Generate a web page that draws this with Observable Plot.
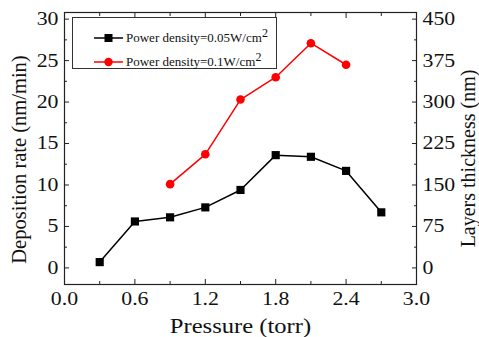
<!DOCTYPE html>
<html><head><meta charset="utf-8">
<script src="https://cdn.jsdelivr.net/npm/d3@7"></script>
<script src="https://cdn.jsdelivr.net/npm/@observablehq/plot@0.6"></script>
<style>
body{margin:0;background:#fff;}
#wrap{position:relative;width:479px;height:337px;font-family:"Liberation Serif","Times New Roman",serif;}
#legend{position:absolute;left:72px;top:17px;width:205px;height:52px;border:1px solid #333;box-sizing:border-box;background:#fff;font-size:13px;color:#111;}
#legend .row{position:absolute;left:0;height:16px;width:200px;}
#legend svg{position:absolute;left:21px;top:0;}
#legend span{position:absolute;left:53px;top:0;line-height:16px;white-space:nowrap;}
#legend sup{font-size:12px;vertical-align:5px;line-height:0;}
</style></head>
<body><div id="wrap"><div id="chart"></div>
<div id="legend">
<div class="row" style="top:12px"><svg width="30" height="16"><line x1="0" y1="8" x2="29" y2="8" stroke="#000" stroke-width="1.5"/><rect x="10.5" y="4" width="8" height="8" fill="#000"/></svg><span>Power density=0.05W/cm<sup>2</sup></span></div>
<div class="row" style="top:36px"><svg width="30" height="16"><line x1="0" y1="8" x2="29" y2="8" stroke="#f00" stroke-width="1.5"/><circle cx="14.5" cy="8" r="4.2" fill="#f00"/></svg><span>Power density=0.1W/cm<sup>2</sup></span></div>
</div></div>
<script>
const pressureLow = [0.3, 0.6, 0.9, 1.2, 1.5, 1.8, 2.1, 2.4, 2.7];
const rateLow = [0.7, 5.6, 6.1, 7.3, 9.4, 13.6, 13.4, 11.7, 6.7];
const pressureHigh = [0.9, 1.2, 1.5, 1.8, 2.1, 2.4];
const rateHigh = [10.1, 13.7, 20.3, 23.0, 27.1, 24.5];
const xTicks = [0, 0.6, 1.2, 1.8, 2.4, 3.0];
const xMinor = [0.3, 0.9, 1.5, 2.1, 2.7];
const yTicks = [0, 5, 10, 15, 20, 25, 30];
const yMinor = [2.5, 7.5, 12.5, 17.5, 22.5, 27.5];
const thicknessLabels = [0, 75, 150, 225, 300, 375, 450];

const low = pressureLow.map((p, i) => ({p, r: rateLow[i]}));
const high = pressureHigh.map((p, i) => ({p, r: rateHigh[i]}));
const fs = 18.5;
const ax = "#222";

const chart = Plot.plot({
  width: 479, height: 337,
  marginLeft: 64, marginRight: 63, marginTop: 12, marginBottom: 53,
  style: {fontFamily: '"Liberation Serif","Times New Roman",serif', color: "#111", background: "#fff"},
  x: {domain: [0, 3]},
  y: {domain: [-2, 30.8]},
  marks: [
    Plot.frame({stroke: ax, strokeWidth: 1.2}),
    Plot.axisX(xTicks, {anchor: "bottom", tickSize: -5, tickPadding: 12, stroke: ax, fontSize: fs, tickFormat: d3.format(".1f"), label: null}),
    Plot.axisX(xTicks, {anchor: "top", tickSize: -5, tickFormat: () => "", stroke: ax, label: null}),
    Plot.axisX(xMinor, {anchor: "bottom", tickSize: -3, tickFormat: () => "", stroke: ax, label: null}),
    Plot.axisX(xMinor, {anchor: "top", tickSize: -3, tickFormat: () => "", stroke: ax, label: null}),
    Plot.axisY(yTicks, {anchor: "left", tickSize: -5, tickPadding: 11, stroke: ax, fontSize: fs, label: null}),
    Plot.axisY(yMinor, {anchor: "left", tickSize: -3, tickFormat: () => "", stroke: ax, label: null}),
    Plot.axisY(yTicks, {anchor: "right", tickSize: -5, tickPadding: 11, stroke: ax, fontSize: fs, label: null,
      tickFormat: d => String(thicknessLabels[yTicks.indexOf(d)])}),
    Plot.axisY(yMinor, {anchor: "right", tickSize: -3, tickFormat: () => "", stroke: ax, label: null}),
    Plot.text(["Pressure (torr)"], {frameAnchor: "bottom", dy: 42, fontSize: 20.5, lineAnchor: "middle", textAnchor: "middle", fill: "#111"}),
    Plot.text(["Deposition rate (nm/min)"], {frameAnchor: "left", dx: -45, dy: 11, rotate: -90, fontSize: 20.5, textAnchor: "middle", lineAnchor: "middle", fill: "#111"}),
    Plot.text(["Layers thickness (nm)"], {frameAnchor: "right", dx: 52, dy: 10, rotate: -90, fontSize: 20, textAnchor: "middle", lineAnchor: "middle", fill: "#111"}),
    Plot.line(low, {x: "p", y: "r", stroke: "#000", strokeWidth: 1.5}),
    Plot.dot(low, {x: "p", y: "r", symbol: "square", r: 4.6, fill: "#000"}),
    Plot.line(high, {x: "p", y: "r", stroke: "#f00", strokeWidth: 1.5}),
    Plot.dot(high, {x: "p", y: "r", symbol: "circle", r: 4.3, fill: "#f00"})
  ]
});
document.getElementById("chart").appendChild(chart);
// the reference's horizontal text is stretched horizontally: scale about each text's anchor
chart.querySelectorAll("text").forEach(t => {
  const tr = t.getAttribute("transform") || "";
  if (tr.includes("rotate")) return;
  const txt = t.textContent;
  if (!txt) return;
  const k = txt === "Pressure (torr)" ? 1.2 : 1.18;
  if (tr) {
    t.setAttribute("transform", `${tr} scale(${k},1)`);
  } else {
    const x = +t.getAttribute("x") || 0, y = +t.getAttribute("y") || 0;
    t.setAttribute("x", 0); t.setAttribute("y", 0);
    t.setAttribute("transform", `translate(${x},${y}) scale(${k},1)`);
  }
});
</script>
</body></html>
